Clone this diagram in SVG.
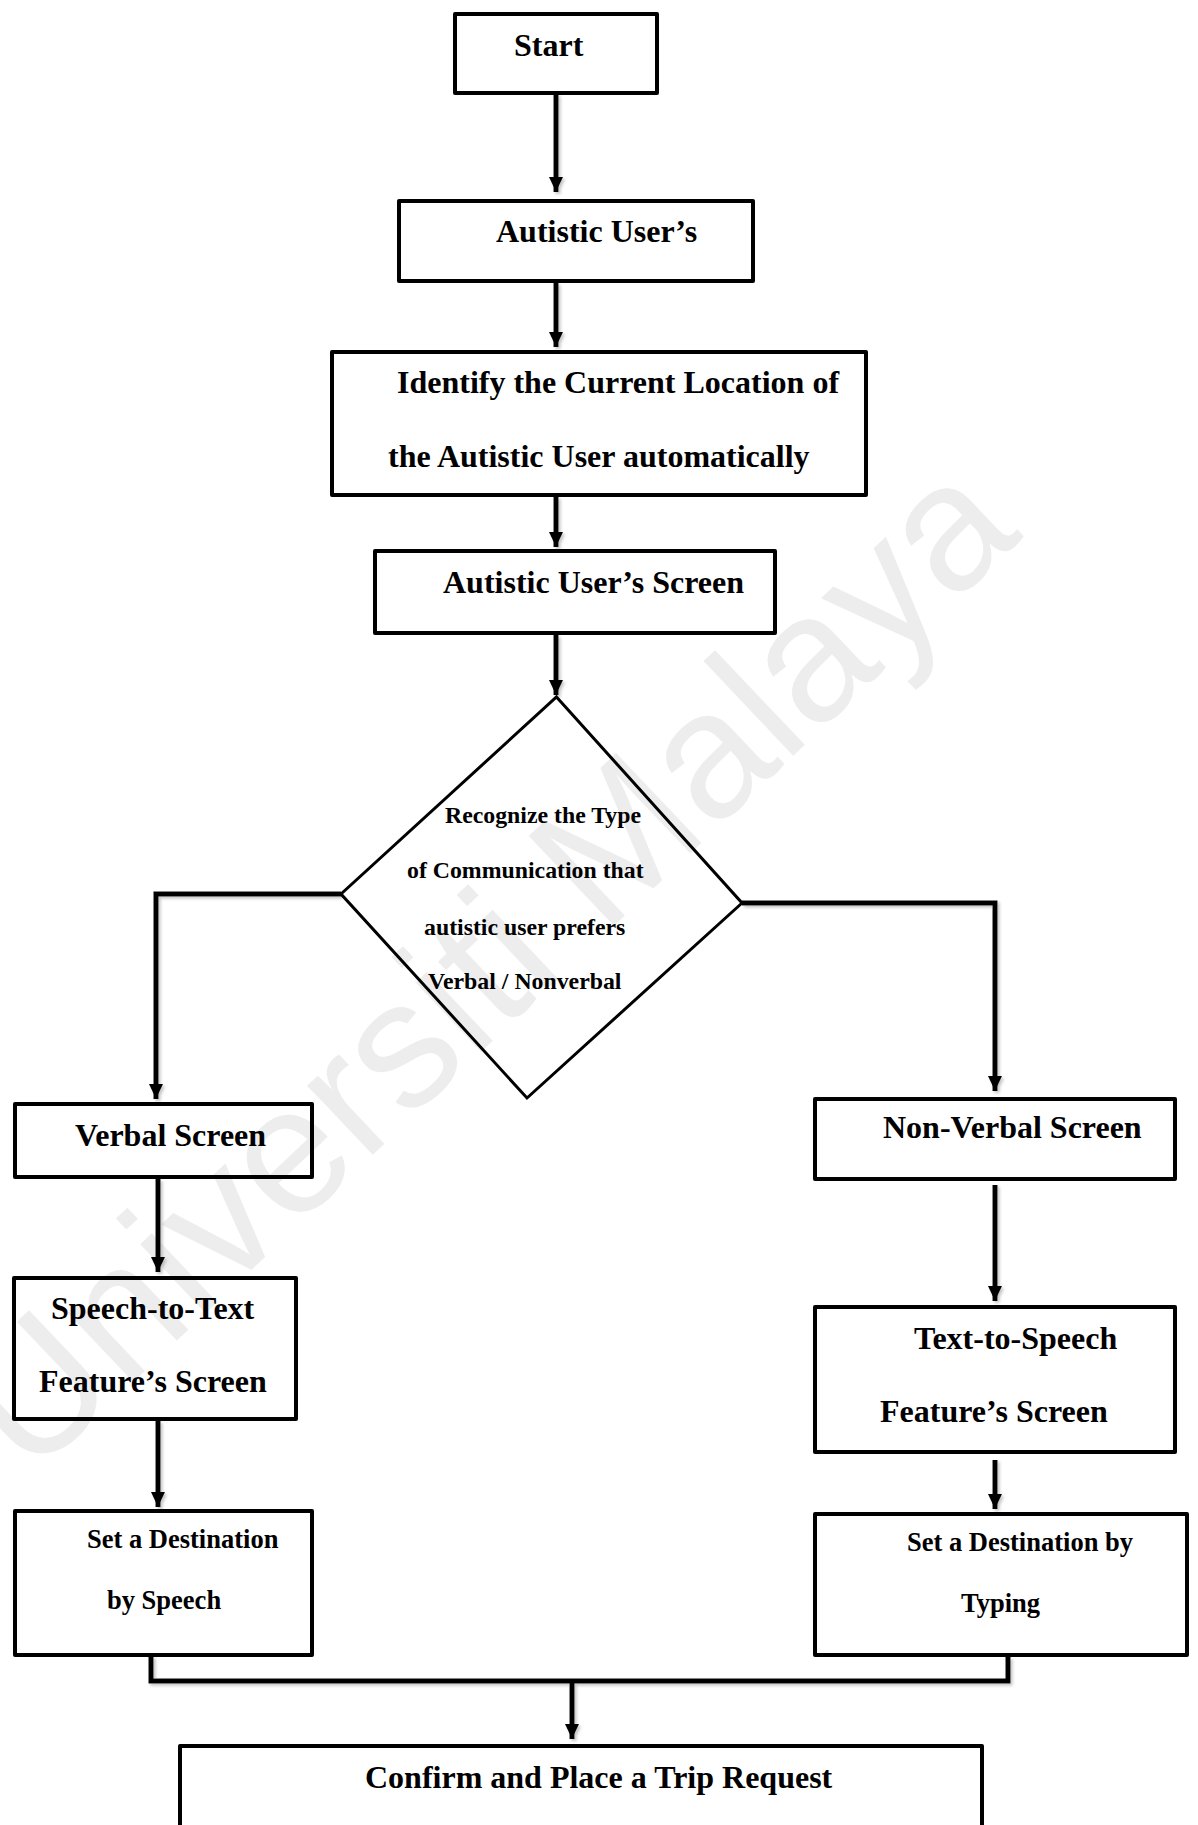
<svg xmlns="http://www.w3.org/2000/svg" width="1198" height="1825" viewBox="0 0 1198 1825">
<style>
.box{fill:none;stroke:#000;stroke-width:4;stroke-linejoin:round}
.dia{fill:none;stroke:#000;stroke-width:3}
.t{font-family:"Liberation Serif","Times New Roman",serif;font-weight:bold;font-size:32px;fill:#000}
.m{font-size:26.5px}
.s{font-size:23.8px}
.c{fill:none;stroke:#000;stroke-width:5}
.wm{font-family:"Liberation Sans",Arial,sans-serif;font-size:180px;fill:#ededed}
</style>
<defs>
<marker id="ah" markerUnits="userSpaceOnUse" markerWidth="16" markerHeight="16" viewBox="-16 -8 16 16" refX="0" refY="0" orient="auto">
<path d="M-15,-7 L0,0 L-15,7 Z" fill="#000"/>
</marker>
<filter id="sh" x="-20%" y="-20%" width="140%" height="140%">
<feDropShadow dx="2" dy="2" stdDeviation="1.5" flood-color="#888" flood-opacity="0.5"/>
</filter>
</defs>
<rect width="1198" height="1825" fill="#fff"/>
<text class="wm" transform="translate(30,1480) rotate(-43.5)">Universiti Malaya</text>

<g id="connectors" filter="url(#sh)">
<path class="c" d="M556,94 V192" marker-end="url(#ah)"/>
<path class="c" d="M556,283 V347" marker-end="url(#ah)"/>
<path class="c" d="M556,497 V547" marker-end="url(#ah)"/>
<path class="c" d="M556,635 V695" marker-end="url(#ah)"/>
<path class="c" d="M341,894 H156 V1099" marker-end="url(#ah)"/>
<path class="c" d="M742,903 H995 V1091" marker-end="url(#ah)"/>
<path class="c" d="M158,1179 V1272" marker-end="url(#ah)"/>
<path class="c" d="M158,1421 V1507" marker-end="url(#ah)"/>
<path class="c" d="M995,1185 V1301" marker-end="url(#ah)"/>
<path class="c" d="M995,1460 V1509" marker-end="url(#ah)"/>
<path class="c" d="M151,1656 V1681 H1008 V1657"/>
<path class="c" d="M572,1681 V1739" marker-end="url(#ah)"/>
</g>

<g id="start">
<rect class="box" x="455" y="14" width="202" height="79"/>
<text class="t" x="514" y="56">Start</text>
</g>
<g id="autistic-user">
<rect class="box" x="399" y="201" width="354" height="80"/>
<text class="t" x="496" y="242">Autistic User’s</text>
</g>
<g id="identify-location">
<rect class="box" x="332" y="352" width="534" height="143"/>
<text class="t" x="397" y="393">Identify the Current Location of</text>
<text class="t" x="388" y="467">the Autistic User automatically</text>
</g>
<g id="user-screen">
<rect class="box" x="375" y="551" width="400" height="82"/>
<text class="t" x="443" y="593">Autistic User’s Screen</text>
</g>
<g id="decision">
<polygon class="dia" points="556.5,697 742,903 527,1098 341,894"/>
<text class="t s" x="445" y="823">Recognize the Type</text>
<text class="t s" x="407" y="878">of Communication that</text>
<text class="t s" x="424" y="935">autistic user prefers</text>
<text class="t s" x="428" y="989">Verbal / Nonverbal</text>
</g>
<g id="verbal-screen">
<rect class="box" x="15" y="1104" width="297" height="73"/>
<text class="t" x="75" y="1146">Verbal Screen</text>
</g>
<g id="nonverbal-screen">
<rect class="box" x="815" y="1099" width="360" height="80"/>
<text class="t" x="883" y="1138">Non-Verbal Screen</text>
</g>
<g id="speech-to-text">
<rect class="box" x="14" y="1278" width="282" height="141"/>
<text class="t" x="51" y="1319">Speech-to-Text</text>
<text class="t" x="39" y="1392">Feature’s Screen</text>
</g>
<g id="text-to-speech">
<rect class="box" x="815" y="1307" width="360" height="145"/>
<text class="t" x="914" y="1349">Text-to-Speech</text>
<text class="t" x="880" y="1422">Feature’s Screen</text>
</g>
<g id="dest-speech">
<rect class="box" x="15" y="1511" width="297" height="144"/>
<text class="t m" x="87" y="1548">Set a Destination</text>
<text class="t m" x="107" y="1609">by Speech</text>
</g>
<g id="dest-typing">
<rect class="box" x="815" y="1514" width="372" height="141"/>
<text class="t m" x="907" y="1551">Set a Destination by</text>
<text class="t m" x="961" y="1612">Typing</text>
</g>
<g id="confirm">
<rect class="box" x="180" y="1746" width="802" height="100"/>
<text class="t" x="365" y="1788">Confirm and Place a Trip Request</text>
</g>
</svg>
